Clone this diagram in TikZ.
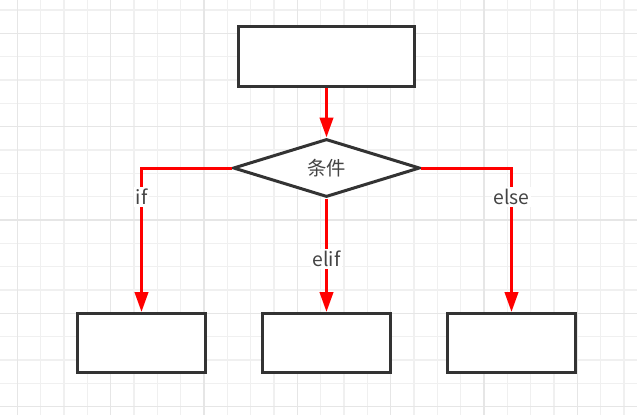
\documentclass[tikz,border=0pt]{standalone}
\usepackage{fontspec}
\setmainfont{Noto Sans CJK SC}
\usetikzlibrary{arrows.meta,shapes.geometric}
\definecolor{gridminor}{HTML}{F0F0F0}
\definecolor{gridmajor}{HTML}{E6E6E6}
\definecolor{boxgray}{HTML}{333333}
\definecolor{txtgray}{HTML}{444444}

\begin{document}
\begin{tikzpicture}[x=0.75pt,y=-0.75pt,
  box/.style={draw=boxgray, line width=2.25pt, fill=white, inner sep=0pt,
    minimum width=96pt, minimum height=44.25pt},
  decision/.style={diamond, aspect=3, draw=boxgray, line width=2.25pt, fill=white,
    inner sep=0pt, minimum width=140pt, minimum height=43.5pt,
    text=txtgray, font=\fontsize{14.5pt}{17pt}\selectfont},
  flow/.style={draw=red, line width=2.25pt, -{Triangle[length=15pt,width=10pt]}},
  lbl/.style={fill=white, text=txtgray, inner sep=1.5pt,
    font=\fontsize{14.5pt}{17pt}\selectfont}]
% background grid
\useasboundingbox (0,0) rectangle (637,415);
\fill[white] (0,0) rectangle (637,415);
\foreach \k in {0,...,26} {
  \pgfmathsetmacro\gx{17.33+23.33*\k}
  \draw[gridminor, line width=0.9pt] (\gx,0) -- (\gx,415);
}
\foreach \k in {0,...,17} {
  \pgfmathsetmacro\gy{10+23.33*\k}
  \draw[gridminor, line width=0.9pt] (0,\gy) -- (637,\gy);
}
\foreach \k in {0,...,6} {
  \pgfmathsetmacro\gx{17.33+93.33*\k}
  \draw[gridmajor, line width=1.1pt] (\gx,0) -- (\gx,415);
}
\foreach \k in {0,...,4} {
  \pgfmathsetmacro\gy{33.33+93.33*\k}
  \draw[gridmajor, line width=1.1pt] (0,\gy) -- (637,\gy);
}
% nodes
\node[box, minimum width=132pt, minimum height=45pt] (start) at (326.5,56.5) {};
\node[decision] (cond) at (326.5,168) {条件};
\node[box] (ifbox) at (141.5,343) {};
\node[box] (elifbox) at (326.5,343) {};
\node[box] (elsebox) at (511.5,343) {};
% connectors
\draw[flow] (start.south) -- (cond.north);
\draw[flow] (cond.west) -| node[lbl, pos=0.6] {if} (ifbox.north);
\draw[flow] (cond.south) -- node[lbl, pos=0.53] {elif} (elifbox.north);
\draw[flow] (cond.east) -| node[lbl, pos=0.6] {else} (elsebox.north);
\end{tikzpicture}
\end{document}
